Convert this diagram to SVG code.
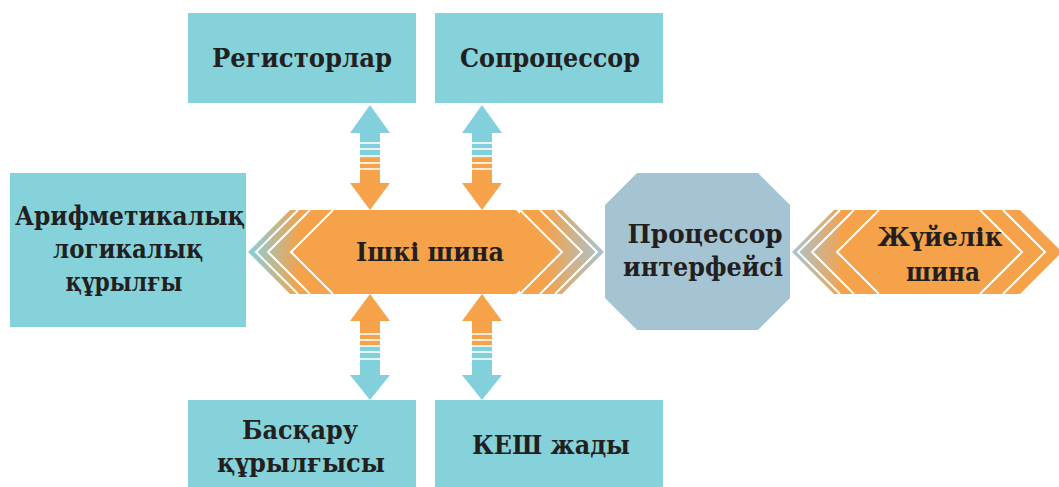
<svg xmlns="http://www.w3.org/2000/svg" width="1059" height="487" viewBox="0 0 1059 487">
<defs>
<style>
.box{fill:#86D2DA}
.oct{fill:#A4C4D3}
.or{fill:#F5A24A}
.bl{fill:#82D0DB}
.wl{fill:none;stroke:#FFFFFF;stroke-width:2}
.ws{stroke:#FFFFFF;stroke-width:1.6}
text{font-family:"DejaVu Serif","Liberation Serif",serif;font-weight:bold;font-size:26.5px;fill:#231F20;text-anchor:middle}
</style>
<linearGradient id="gL" gradientUnits="userSpaceOnUse" x1="248" y1="0" x2="300" y2="0">
<stop offset="0" stop-color="#86D0DC"/><stop offset="1" stop-color="#F5A24A"/>
</linearGradient>
<linearGradient id="gR" gradientUnits="userSpaceOnUse" x1="545" y1="0" x2="604" y2="0">
<stop offset="0" stop-color="#F5A24A"/><stop offset="1" stop-color="#A6C4D2"/>
</linearGradient>
<linearGradient id="gS" gradientUnits="userSpaceOnUse" x1="792" y1="0" x2="845" y2="0">
<stop offset="0" stop-color="#A6C4D2"/><stop offset="1" stop-color="#F5A24A"/>
</linearGradient>
</defs>
<rect width="1059" height="487" fill="#FFFFFF"/>

<g id="connectors">
<g id="arrow-registers">
<polygon class="bl" points="370,105 390,133 350,133"/>
<rect class="bl" x="360" y="132" width="20" height="26"/>
<rect class="or" x="360" y="158" width="20" height="26"/>
<polygon class="or" points="350,183 390,183 370,210"/>
<line class="ws" x1="360" y1="143" x2="380" y2="143"/>
<line class="ws" x1="360" y1="149" x2="380" y2="149"/>
<line class="ws" x1="360" y1="156" x2="380" y2="156" stroke-width="3"/>
<line class="ws" x1="360" y1="163" x2="380" y2="163"/>
<line class="ws" x1="360" y1="169" x2="380" y2="169"/>
</g>
<g id="arrow-coprocessor">
<polygon class="bl" points="482,105 502,133 462,133"/>
<rect class="bl" x="472" y="132" width="20" height="26"/>
<rect class="or" x="472" y="158" width="20" height="26"/>
<polygon class="or" points="462,183 502,183 482,210"/>
<line class="ws" x1="472" y1="143" x2="492" y2="143"/>
<line class="ws" x1="472" y1="149" x2="492" y2="149"/>
<line class="ws" x1="472" y1="156" x2="492" y2="156" stroke-width="3"/>
<line class="ws" x1="472" y1="163" x2="492" y2="163"/>
<line class="ws" x1="472" y1="169" x2="492" y2="169"/>
</g>
<g id="arrow-control">
<polygon class="or" points="370,294 390,321 350,321"/>
<rect class="or" x="360" y="320" width="20" height="26"/>
<rect class="bl" x="360" y="346" width="20" height="30"/>
<polygon class="bl" points="350,375 390,375 370,400"/>
<line class="ws" x1="360" y1="334" x2="380" y2="334"/>
<line class="ws" x1="360" y1="340" x2="380" y2="340"/>
<line class="ws" x1="360" y1="346" x2="380" y2="346" stroke-width="3"/>
<line class="ws" x1="360" y1="352" x2="380" y2="352"/>
<line class="ws" x1="360" y1="359" x2="380" y2="359"/>
</g>
<g id="arrow-cache">
<polygon class="or" points="482,294 502,321 462,321"/>
<rect class="or" x="472" y="320" width="20" height="26"/>
<rect class="bl" x="472" y="346" width="20" height="30"/>
<polygon class="bl" points="462,375 502,375 482,400"/>
<line class="ws" x1="472" y1="334" x2="492" y2="334"/>
<line class="ws" x1="472" y1="340" x2="492" y2="340"/>
<line class="ws" x1="472" y1="346" x2="492" y2="346" stroke-width="3"/>
<line class="ws" x1="472" y1="352" x2="492" y2="352"/>
<line class="ws" x1="472" y1="359" x2="492" y2="359"/>
</g>
</g>

<g id="registers">
<rect class="box" x="188" y="13" width="228" height="90"/>
<text x="302" y="67" textLength="180" lengthAdjust="spacingAndGlyphs">Регисторлар</text>
</g>
<g id="coprocessor">
<rect class="box" x="435" y="13" width="228" height="90"/>
<text x="550" y="67" textLength="180" lengthAdjust="spacingAndGlyphs">Сопроцессор</text>
</g>
<g id="control-unit">
<rect class="box" x="188" y="400" width="228" height="87"/>
<text x="300" y="439" textLength="116" lengthAdjust="spacingAndGlyphs">Басқару</text>
<text x="301" y="472" textLength="168" lengthAdjust="spacingAndGlyphs">құрылғысы</text>
</g>
<g id="cache">
<rect class="box" x="435" y="400" width="228" height="87"/>
<text x="551" y="454" textLength="158" lengthAdjust="spacingAndGlyphs">КЕШ жады</text>
</g>
<g id="alu">
<rect class="box" x="10" y="173" width="236" height="154"/>
<text x="130" y="225" textLength="230" lengthAdjust="spacingAndGlyphs">Арифметикалық</text>
<text x="128" y="258" textLength="150" lengthAdjust="spacingAndGlyphs">логикалық</text>
<text x="124" y="291" textLength="117" lengthAdjust="spacingAndGlyphs">құрылғы</text>
</g>

<g id="internal-bus">
<polygon fill="url(#gL)" points="248,252 290,210 340,210 340,294 290,294"/>
<polygon fill="url(#gR)" points="520,210 562,210 604,252 562,294 520,294"/>
<polygon class="or" points="292,252 334,210 516,210 558,252 516,294 334,294"/>
<polyline class="wl" points="298,210 256,252 298,294"/>
<polyline class="wl" points="310,210 268,252 310,294"/>
<polyline class="wl" points="333,210 291,252 333,294"/>
<polyline class="wl" points="520,210 562,252 520,294"/>
<polyline class="wl" points="540,210 582,252 540,294"/>
<polyline class="wl" points="555,210 597,252 555,294"/>
<text x="430" y="261" textLength="148" lengthAdjust="spacingAndGlyphs">Ішкі шина</text>
</g>

<g id="processor-interface">
<polygon class="oct" points="637,173 758,173 790,205 790,298 758,330 637,330 605,298 605,205"/>
<text x="705" y="243" textLength="155" lengthAdjust="spacingAndGlyphs">Процессор</text>
<text x="703" y="276" textLength="160" lengthAdjust="spacingAndGlyphs">интерфейсі</text>
</g>

<g id="system-bus">
<polygon fill="url(#gS)" points="792,252 834,210 850,210 850,294 834,294"/>
<polygon class="or" points="840,210 1020,210 1062,252 1020,294 840,294"/>
<polygon class="or" points="837,252 879,210 980,210 1020,252 980,294 879,294"/>
<polyline class="wl" points="840,210 798,252 840,294"/>
<polyline class="wl" points="854,210 812,252 854,294"/>
<polyline class="wl" points="879,210 837,252 879,294"/>
<polyline class="wl" points="980,210 1022,252 980,294"/>
<polyline class="wl" points="1003,210 1045,252 1003,294"/>
<text x="940" y="246" textLength="125" lengthAdjust="spacingAndGlyphs">Жүйелік</text>
<text x="943" y="281" textLength="74" lengthAdjust="spacingAndGlyphs">шина</text>
</g>
</svg>
